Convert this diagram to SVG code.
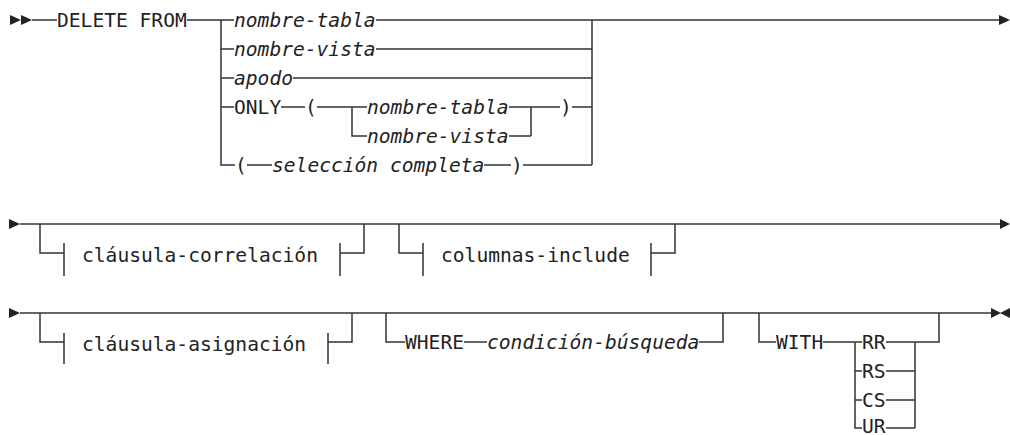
<svg xmlns="http://www.w3.org/2000/svg" width="1010" height="435" viewBox="0 0 1010 435">
<style>
.l{stroke:#333;stroke-width:1.5;fill:none}
.t{font-family:"DejaVu Sans Mono","Liberation Mono",monospace;font-size:19.6px;fill:#222}
.i{font-style:italic}
.a{fill:#222}
</style>
<rect width="1010" height="435" fill="#fff"/>
<g id="connectors">
<!-- row 1 -->
<polygon class="a" points="10,15 21,20 10,25"/>
<polygon class="a" points="21,15 32,20 21,25"/>
<path class="l" d="M32 20H57M187 20H234M376 20H1001"/>
<polygon class="a" points="999,15 1010,20 999,25"/>
<path class="l" d="M221 20V165H235M221 49H234M221 78H234M221 107H234"/>
<path class="l" d="M376 49H592M293 78H592M592 20V165"/>
<path class="l" d="M281 107H305M317 107H367M352 107V136H367M509 107H560M509 136H531M531 107V136M572 107H592"/>
<path class="l" d="M247 165H272M484 165H511M523 165H592"/>
<!-- row 2 -->
<polygon class="a" points="9,219 20,224 9,229"/>
<path class="l" d="M20 224H1002"/>
<polygon class="a" points="1000,219 1010,224 1000,229"/>
<path class="l" d="M40 224V253H64M64 243V276M340 243V276M340 253H364V224"/>
<path class="l" d="M399 224V253H423M423 243V276M651 243V276M651 253H675V224"/>
<!-- row 3 -->
<polygon class="a" points="9,308 20,313 9,318"/>
<path class="l" d="M20 313H992"/>
<polygon class="a" points="991,308 1001,313 991,318"/>
<polygon class="a" points="1010,308 1000,313 1010,318"/>
<path class="l" d="M40 313V342H64M64 333V364M328 333V364M328 342H352V313"/>
<path class="l" d="M386 313V342H405M464 342H487M699 342H723V313"/>
<path class="l" d="M759 313V342H776M823 342H862M855 342V428H862M855 371H862M855 400H862M886 342H915M886 371H915M886 400H915M886 428H915M915 342V428M915 342H939V313"/>
</g>
<g id="n-delete"><text class="t" x="57" y="27">DELETE FROM</text></g>
<g id="n-tabla"><text class="t i" x="234" y="27">nombre-tabla</text></g>
<g id="n-vista"><text class="t i" x="234" y="56">nombre-vista</text></g>
<g id="n-apodo"><text class="t i" x="234" y="85">apodo</text></g>
<g id="n-only"><text class="t" x="234" y="114">ONLY</text><text class="t" x="305" y="114">(</text><text class="t" x="560" y="114">)</text></g>
<g id="n-tabla2"><text class="t i" x="367" y="114">nombre-tabla</text></g>
<g id="n-vista2"><text class="t i" x="367" y="143">nombre-vista</text></g>
<g id="n-sel"><text class="t" x="235" y="172">(</text><text class="t i" x="272" y="172">selección completa</text><text class="t" x="511" y="172">)</text></g>
<g id="n-corr"><text class="t" x="82" y="262">cláusula-correlación</text></g>
<g id="n-cols"><text class="t" x="441" y="262">columnas-include</text></g>
<g id="n-asig"><text class="t" x="82" y="351">cláusula-asignación</text></g>
<g id="n-where"><text class="t" x="405" y="349">WHERE</text><text class="t i" x="487" y="349">condición-búsqueda</text></g>
<g id="n-with"><text class="t" x="776" y="349">WITH</text></g>
<g id="n-rr"><text class="t" x="862" y="349">RR</text></g>
<g id="n-rs"><text class="t" x="862" y="378">RS</text></g>
<g id="n-cs"><text class="t" x="862" y="407">CS</text></g>
<g id="n-ur"><text class="t" x="862" y="433">UR</text></g>
</svg>
